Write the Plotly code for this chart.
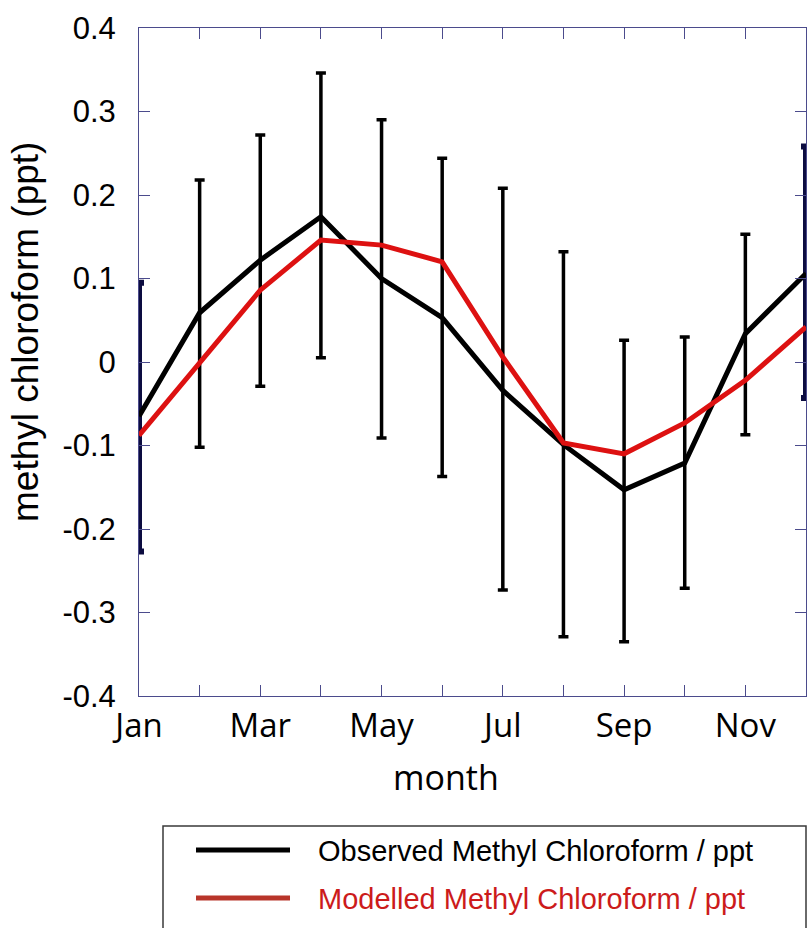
import plotly.graph_objects as go

# ---- data ----
months = ["Jan", "Feb", "Mar", "Apr", "May", "Jun", "Jul", "Aug", "Sep", "Oct", "Nov", "Dec"]
month_num = [1, 2, 3, 4, 5, 6, 7, 8, 9, 10, 11, 12]
observed = [-0.065, 0.059, 0.122, 0.174, 0.100, 0.053, -0.034, -0.099, -0.153, -0.121, 0.034, 0.106]
modelled = [-0.088, 0.000, 0.086, 0.146, 0.140, 0.120, 0.006, -0.097, -0.110, -0.073, -0.022, 0.042]
obs_upper = [0.095, 0.218, 0.272, 0.346, 0.290, 0.244, 0.208, 0.132, 0.026, 0.030, 0.153, 0.258]
obs_lower = [-0.227, -0.102, -0.029, 0.005, -0.091, -0.137, -0.273, -0.329, -0.335, -0.271, -0.087, -0.043]
x_tick_labels = ["Jan", "", "Mar", "", "May", "", "Jul", "", "Sep", "", "Nov", ""]
y_tick_vals = [0.4, 0.3, 0.2, 0.1, 0.0, -0.1, -0.2, -0.3, -0.4]
y_tick_labels = ["0.4", "0.3", "0.2", "0.1", "0", "-0.1", "-0.2", "-0.3", "-0.4"]
legend_labels = ["Observed Methyl Chloroform / ppt", "Modelled Methyl Chloroform / ppt"]

W, H = 808, 928
L, R, T, B = 139, 806, 28, 696
AXIS_COLOR = "#4b4b8c"

err_plus = [u - o for u, o in zip(obs_upper, observed)]
err_minus = [o - l for o, l in zip(observed, obs_lower)]

inner = list(range(1, 11))
edge = [0, 11]

fig = go.Figure()

# inner error bars (black)
fig.add_trace(go.Scatter(
    x=[month_num[i] for i in inner], y=[observed[i] for i in inner],
    mode="markers", marker=dict(size=1, color="rgba(0,0,0,0)"),
    error_y=dict(type="data", symmetric=False,
                 array=[err_plus[i] for i in inner],
                 arrayminus=[err_minus[i] for i in inner],
                 color="black", thickness=3.5, width=5),
    showlegend=False, hoverinfo="skip"))

# edge error bars (dark navy, on the axes)
fig.add_trace(go.Scatter(
    x=[month_num[i] for i in edge], y=[observed[i] for i in edge],
    mode="markers", marker=dict(size=1, color="rgba(0,0,0,0)"),
    error_y=dict(type="data", symmetric=False,
                 array=[err_plus[i] for i in edge],
                 arrayminus=[err_minus[i] for i in edge],
                 color="#0c0c40", thickness=6, width=5),
    cliponaxis=False, showlegend=False, hoverinfo="skip"))

fig.add_trace(go.Scatter(
    x=month_num, y=observed, mode="lines",
    line=dict(color="black", width=5),
    name=legend_labels[0], showlegend=False))

fig.add_trace(go.Scatter(
    x=month_num, y=modelled, mode="lines",
    line=dict(color="#dd1111", width=5),
    name=legend_labels[1], showlegend=False))


def px_x(p):
    return (p - L) / (R - L)


def px_y(p):
    return (B - p) / (B - T)


shapes = [
    dict(type="rect", xref="paper", yref="paper",
         x0=px_x(163), x1=px_x(806), y0=px_y(826), y1=px_y(940),
         line=dict(color="#3a3a3a", width=1.5), fillcolor="white", layer="above"),
    dict(type="line", xref="paper", yref="paper",
         x0=px_x(196), x1=px_x(290), y0=px_y(850), y1=px_y(850),
         line=dict(color="black", width=5)),
    dict(type="line", xref="paper", yref="paper",
         x0=px_x(196), x1=px_x(290), y0=px_y(898), y1=px_y(898),
         line=dict(color="#b8352a", width=5)),
]

annotations = [
    dict(text=legend_labels[0], xref="paper", yref="paper",
         x=px_x(316), y=px_y(851), xanchor="left", yanchor="middle", showarrow=False,
         font=dict(family="Liberation Sans, Arial", size=29, color="black")),
    dict(text=legend_labels[1], xref="paper", yref="paper",
         x=px_x(316), y=px_y(899), xanchor="left", yanchor="middle", showarrow=False,
         font=dict(family="Liberation Sans, Arial", size=29, color="#cc1b1b")),
    dict(text="month", xref="paper", yref="paper",
         x=px_x(446), y=px_y(777), xanchor="center", yanchor="middle", showarrow=False,
         font=dict(family="Open Sans", size=34, color="black")),
    dict(text="methyl chloroform (ppt)", xref="paper", yref="paper", textangle=-90,
         x=px_x(25), y=px_y(332), xanchor="center", yanchor="middle", showarrow=False,
         font=dict(family="Liberation Sans, Arial", size=37, color="black")),
]

fig.update_layout(
    width=W, height=H,
    margin=dict(l=L, r=W - R, t=T, b=H - B, pad=0),
    paper_bgcolor="white", plot_bgcolor="white",
    showlegend=False,
    shapes=shapes, annotations=annotations,
    xaxis=dict(range=[1, 12], tickmode="array", tickvals=month_num, ticktext=x_tick_labels,
               ticks="inside", ticklen=11, tickwidth=1, tickcolor=AXIS_COLOR,
               showline=True, linecolor=AXIS_COLOR, linewidth=1, mirror="ticks",
               showgrid=False, zeroline=False,
               tickfont=dict(family="Open Sans", size=33, color="black")),
    yaxis=dict(range=[-0.4, 0.4], tickmode="array", tickvals=y_tick_vals, ticktext=y_tick_labels,
               ticks="inside", ticklen=11, tickwidth=1, tickcolor=AXIS_COLOR,
               showline=True, linecolor=AXIS_COLOR, linewidth=1, mirror="ticks",
               showgrid=False, zeroline=False, ticklabelstandoff=16,
               tickfont=dict(family="Liberation Sans, Arial", size=31, color="black")),
)

fig.write_html("out.html", config={"displayModeBar": False},
               post_script="document.body.style.margin='0';document.body.style.overflow='hidden';")
